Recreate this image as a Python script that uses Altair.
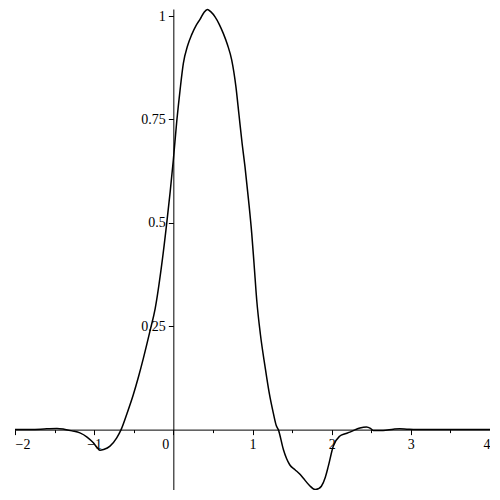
import altair as alt
import pandas as pd

xs = [-2.0, -1.8, -1.6, -1.47, -1.38, -1.28, -1.18, -1.09, -1.01, -0.96, -0.926, -0.88,
      -0.80, -0.715, -0.66, -0.58, -0.505, -0.44, -0.378, -0.293, -0.23, -0.146, -0.083,
      -0.04, 0.0, 0.043, 0.085, 0.126, 0.18, 0.232, 0.29, 0.337, 0.385, 0.43, 0.475, 0.527,
      0.58, 0.631, 0.685, 0.737, 0.79, 0.83, 0.87, 0.905, 0.95, 0.99, 1.02, 1.053,
      1.10, 1.158, 1.21, 1.263, 1.30, 1.326, 1.39, 1.43, 1.47, 1.537, 1.60, 1.64,
      1.72, 1.79, 1.83, 1.87, 1.92, 1.957, 2.02, 2.10, 2.17, 2.23, 2.30, 2.357, 2.44,
      2.49, 2.525, 2.65, 2.78, 2.86, 2.95, 3.07, 3.5, 4.0]
ys = [0.0, 0.0, 0.002, 0.003, 0.001, -0.003, -0.008, -0.018, -0.032, -0.044, -0.050, -0.048,
      -0.040, -0.020, 0.0, 0.042, 0.085, 0.128, 0.173, 0.240, 0.292, 0.400, 0.50,
      0.575, 0.652, 0.745, 0.821, 0.885, 0.928, 0.955, 0.978, 0.992, 1.008, 1.016, 1.01, 0.998,
      0.98, 0.958, 0.93, 0.894, 0.83, 0.76, 0.69, 0.636, 0.555, 0.475, 0.40, 0.314,
      0.23, 0.153, 0.09, 0.04, 0.01, 0.0, -0.048, -0.070, -0.085, -0.097, -0.108, -0.117,
      -0.135, -0.145, -0.143, -0.137, -0.115, -0.089, -0.04, -0.016, -0.010, -0.006, 0.0, 0.004, 0.0065,
      0.003, -0.002, -0.002, 0.001, 0.002, 0.001, 0.0, 0.0, 0.0]

x_ticks = [-2, -1.5, -1, -0.5, 0, 0.5, 1, 1.5, 2, 2.5, 3, 3.5, 4]
y_ticks = [0.25, 0.5, 0.75, 1]

x_domain = [-2, 4]
y_domain = [-0.146, 1.017]

W, H = 475, 481
# the vertical axis sits at x = 0, the horizontal axis at y = 0
yaxis_off = -(0 - x_domain[0]) / (x_domain[1] - x_domain[0]) * W
xaxis_off = -(0 - y_domain[0]) / (y_domain[1] - y_domain[0]) * H

df = pd.DataFrame({"x": xs, "y": ys})

font = "Liberation Serif"

chart = alt.Chart(df).mark_line(color="black", strokeWidth=1.5, interpolate="monotone").encode(
    x=alt.X("x:Q", scale=alt.Scale(domain=x_domain, nice=False, zero=False),
            axis=alt.Axis(values=x_ticks, title=None, grid=False, offset=xaxis_off,
                          labelExpr="datum.value % 1 == 0 ? replace(toString(datum.value), '-', '\u2212') : ''",
                          tickSize={"condition": {"test": "datum.value % 1 == 0", "value": 5}, "value": 3},
                          labelOffset={"condition": {"test": "datum.value == 0", "value": -8}, "value": 0},
                          domainColor="black", tickColor="black", labelColor="black",
                          labelFont=font, labelFontSize=14, labelPadding=3,
                          domainWidth=1, tickWidth=1)),
    y=alt.Y("y:Q", scale=alt.Scale(domain=y_domain, nice=False, zero=False),
            axis=alt.Axis(values=y_ticks, title=None, grid=False, offset=yaxis_off,
                          labelExpr="toString(datum.value)", tickSize=5,
                          domainColor="black", tickColor="black", labelColor="black",
                          labelFont=font, labelFontSize=14, labelPadding=3,
                          domainWidth=1, tickWidth=1)),
).properties(
    width=W, height=H,
    autosize=alt.AutoSizeParams(type="none"),
    padding={"left": 7, "top": 1, "right": 0, "bottom": 0},
).configure_view(strokeWidth=0)

chart.save("out.html", embed_options={"renderer": "svg", "actions": False})
